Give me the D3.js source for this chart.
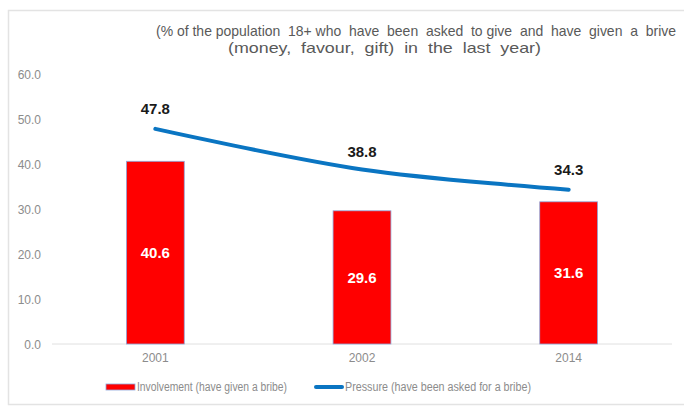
<!DOCTYPE html>
<html lang="en">
<head>
<meta charset="utf-8">
<script src="https://cdn.jsdelivr.net/npm/d3@7"></script>
<style>
  body { margin: 0; background: #fff; }
  text { font-family: "Liberation Sans", Arial, sans-serif; }
  .title { white-space: pre; }
  .axis path, .axis line { display: none; }
  .axis text { fill: #8c8c8c; font-size: 12px; font-family: "Liberation Sans", Arial, sans-serif; }
</style>
</head>
<body>
<script>
const years = ["2001", "2002", "2014"]
const involvement = [40.6, 29.6, 31.6]
const pressure = [47.8, 38.8, 34.3]
const yTicks = [0, 10, 20, 30, 40, 50, 60]
const titleLines = [
  "(% of the population  18+ who  have  been  asked  to give  and  have  given  a  brive",
  "(money,  favour,  gift)  in  the  last  year)"
]
const seriesNames = ["Involvement (have given a bribe)", "Pressure (have been asked for a bribe)"]

const w = 684
const h = 406
const plotL = 52, plotR = 672, plotT = 74, plotB = 344

const svg = d3.select("body").append("svg")
  .attr("width", w)
  .attr("height", h)

// frame
svg.append("rect")
  .attr("x", 8.5).attr("y", 10.5)
  .attr("width", w).attr("height", h - 12)
  .attr("fill", "none")
  .attr("stroke", "#e3e3e3")
  .attr("stroke-width", 1.5)

const x = d3.scaleBand().domain(years).range([plotL, plotR])
const y = d3.scaleLinear().domain([0, 60]).range([plotB, plotT])

// title
svg.append("text")
  .attr("class", "title")
  .attr("x", 156).attr("y", 36)
  .attr("fill", "#595959").attr("font-size", 14.5)
  .attr("textLength", 520).attr("lengthAdjust", "spacingAndGlyphs")
  .text(titleLines[0])
svg.append("text")
  .attr("class", "title")
  .attr("x", 228).attr("y", 53)
  .attr("fill", "#595959").attr("font-size", 14.5)
  .attr("textLength", 313).attr("lengthAdjust", "spacingAndGlyphs")
  .text(titleLines[1])

// y axis labels
svg.append("g")
  .attr("class", "axis")
  .attr("transform", `translate(${plotL - 11}, 0)`)
  .call(d3.axisLeft(y).tickValues(yTicks).tickFormat(d3.format(".1f")).tickSize(0).tickPadding(0))
  .selectAll("text").attr("dy", "0.35em")

// baseline
svg.append("line")
  .attr("x1", plotL).attr("x2", plotR)
  .attr("y1", y(0)).attr("y2", y(0))
  .attr("stroke", "#e0e0e0").attr("stroke-width", 1)

// x axis labels
svg.append("g")
  .attr("class", "axis")
  .attr("transform", `translate(0, ${plotB})`)
  .call(d3.axisBottom(x).tickSize(0).tickPadding(9))

const barW = x.bandwidth() * 0.28

// bars
svg.selectAll("rect.bar")
  .data(involvement)
  .enter().append("rect")
  .attr("class", "bar")
  .attr("x", (d, i) => x(years[i]) + x.bandwidth() / 2 - barW / 2)
  .attr("y", d => y(d))
  .attr("width", barW)
  .attr("height", d => y(0) - y(d))
  .attr("fill", "#ff0000")
  .attr("stroke", "#8fa9dc")
  .attr("stroke-width", 0.8)

svg.selectAll("text.barlab")
  .data(involvement)
  .enter().append("text")
  .attr("class", "barlab")
  .attr("x", (d, i) => x(years[i]) + x.bandwidth() / 2)
  .attr("y", d => (y(d) + y(0)) / 2)
  .attr("dy", "0.35em")
  .attr("text-anchor", "middle")
  .attr("fill", "#fff")
  .attr("font-size", 15)
  .attr("font-weight", "bold")
  .text(d => d.toFixed(1))

// line
const line = d3.line()
  .x((d, i) => x(years[i]) + x.bandwidth() / 2)
  .y(d => y(d))
  .curve(d3.curveCatmullRom.alpha(0.5))

svg.append("path")
  .datum(pressure)
  .attr("d", line)
  .attr("fill", "none")
  .attr("stroke", "#0a75c2")
  .attr("stroke-width", 4)
  .attr("stroke-linecap", "round")

svg.selectAll("text.linelab")
  .data(pressure)
  .enter().append("text")
  .attr("class", "linelab")
  .attr("x", (d, i) => x(years[i]) + x.bandwidth() / 2)
  .attr("y", (d, i) => y(d) - (i === 1 ? 12 : 15))
  .attr("text-anchor", "middle")
  .attr("fill", "#1a1a1a")
  .attr("font-size", 15)
  .attr("font-weight", "bold")
  .text(d => d.toFixed(1))

// legend
const legend = svg.append("g")
legend.append("rect")
  .attr("x", 106).attr("y", 384)
  .attr("width", 29).attr("height", 6)
  .attr("fill", "#ff0000")
  .attr("stroke", "#8fa9dc").attr("stroke-width", 0.8)
legend.append("text")
  .attr("x", 137).attr("y", 391)
  .attr("fill", "#8c8c8c").attr("font-size", 12.5)
  .attr("textLength", 150).attr("lengthAdjust", "spacingAndGlyphs")
  .text(seriesNames[0])
legend.append("line")
  .attr("x1", 316).attr("x2", 342)
  .attr("y1", 387).attr("y2", 387)
  .attr("stroke", "#0a75c2").attr("stroke-width", 4)
  .attr("stroke-linecap", "round")
legend.append("text")
  .attr("x", 345).attr("y", 391)
  .attr("fill", "#8c8c8c").attr("font-size", 12.5)
  .attr("textLength", 186).attr("lengthAdjust", "spacingAndGlyphs")
  .text(seriesNames[1])
</script>
</body>
</html>
